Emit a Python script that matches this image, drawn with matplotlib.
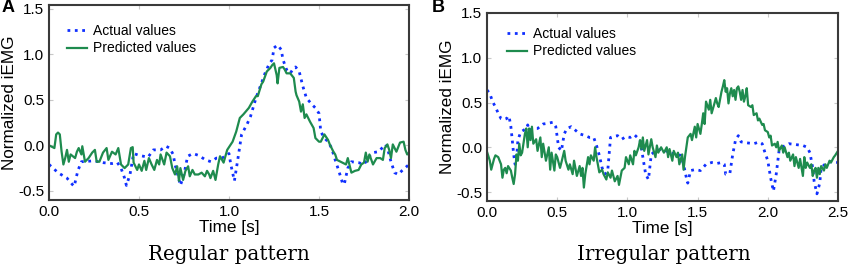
import matplotlib
matplotlib.use("Agg")
import matplotlib.pyplot as plt

# ---------------- Panel A (regular pattern) ----------------
a_actual_t = [0.00, 0.05, 0.10, 0.13, 0.14, 0.16, 0.18, 0.25, 0.30, 0.35, 0.38, 0.40, 0.42, 0.43, 0.45,
              0.47, 0.50, 0.55, 0.58, 0.62, 0.65, 0.67, 0.69, 0.70, 0.72, 0.73, 0.75, 0.77, 0.80, 0.83,
              0.87, 0.90, 0.93, 0.96, 0.98, 1.00, 1.01, 1.03, 1.05, 1.07, 1.10, 1.12, 1.15, 1.18, 1.20,
              1.22, 1.24, 1.25, 1.27, 1.29, 1.30, 1.32, 1.34, 1.36, 1.37, 1.39, 1.41, 1.43, 1.46, 1.48,
              1.50, 1.51, 1.53, 1.55, 1.57, 1.59, 1.61, 1.63, 1.64, 1.66, 1.68, 1.72, 1.75, 1.78, 1.80,
              1.83, 1.85, 1.87, 1.88, 1.90, 1.92, 1.94, 1.96, 2.00]
a_actual_v = [-0.21, -0.30, -0.36, -0.43, -0.45, -0.28, -0.18, -0.17, -0.19, -0.20, -0.19, -0.25, -0.36, -0.44, -0.32,
              -0.09, -0.11, -0.13, -0.05, -0.05, -0.01, -0.03, -0.10, -0.21, -0.36, -0.44, -0.32, -0.12, -0.09, -0.11,
              -0.16, -0.18, -0.14, -0.14, -0.12, -0.09, -0.21, -0.39, -0.14, 0.12, 0.23, 0.32, 0.52, 0.68, 0.79,
              0.88, 0.94, 1.07, 1.10, 1.05, 0.94, 0.83, 0.79, 0.85, 0.86, 0.81, 0.65, 0.52, 0.45, 0.41,
              0.35, 0.15, 0.08, 0.04, -0.03, -0.16, -0.28, -0.41, -0.43, -0.25, -0.18, -0.19, -0.21, -0.12, -0.08,
              -0.07, -0.03, 0.01, -0.03, -0.18, -0.30, -0.32, -0.28, -0.21]

a_pred_t = [0.00, 0.02, 0.03, 0.04, 0.05, 0.06, 0.07, 0.08, 0.09, 0.10, 0.11, 0.12, 0.145, 0.155, 0.165,
            0.18, 0.185, 0.20, 0.22, 0.24, 0.255, 0.265, 0.28, 0.30, 0.32, 0.33, 0.35, 0.37, 0.385, 0.40,
            0.42, 0.44, 0.455, 0.465, 0.47, 0.49, 0.50, 0.515, 0.53, 0.54, 0.555, 0.57, 0.585, 0.60, 0.612,
            0.62, 0.64, 0.653, 0.672, 0.685, 0.70, 0.712, 0.722, 0.73, 0.745, 0.758, 0.773, 0.782, 0.797, 0.81,
            0.83, 0.848, 0.866, 0.878, 0.89, 0.897, 0.912, 0.925, 0.94, 0.95, 0.97, 0.99, 1.02, 1.04, 1.06,
            1.08, 1.11, 1.13, 1.15, 1.16, 1.18, 1.19, 1.21, 1.23, 1.24, 1.25, 1.265, 1.27, 1.28, 1.30,
            1.31, 1.32, 1.34, 1.36, 1.37, 1.375, 1.39, 1.40, 1.41, 1.42, 1.43, 1.45, 1.47, 1.48, 1.50,
            1.51, 1.53, 1.55, 1.56, 1.58, 1.59, 1.60, 1.62, 1.63, 1.65, 1.66, 1.68, 1.70, 1.72, 1.735,
            1.75, 1.76, 1.77, 1.78, 1.80, 1.82, 1.84, 1.855, 1.865, 1.88, 1.89, 1.90, 1.91, 1.93, 1.95,
            1.97, 1.98, 1.99, 2.00]
a_pred_v = [0.00, -0.02, -0.03, 0.12, 0.14, 0.12, -0.07, -0.21, -0.14, -0.05, -0.18, -0.10, -0.14, -0.07, -0.03,
            -0.10, -0.01, -0.18, -0.14, -0.08, -0.05, -0.18, -0.18, -0.08, -0.03, -0.16, -0.07, -0.10, -0.03, -0.21,
            -0.25, -0.21, -0.03, -0.02, -0.19, -0.27, -0.21, -0.28, -0.17, -0.27, -0.14, -0.21, -0.27, -0.16, -0.21,
            -0.10, -0.21, -0.08, -0.12, -0.25, -0.32, -0.23, -0.39, -0.25, -0.38, -0.28, -0.23, -0.34, -0.27, -0.32,
            -0.32, -0.30, -0.34, -0.28, -0.32, -0.36, -0.28, -0.38, -0.21, -0.12, -0.19, -0.05, 0.04, 0.15, 0.30,
            0.34, 0.41, 0.48, 0.54, 0.54, 0.67, 0.70, 0.81, 0.85, 0.88, 0.90, 0.77, 0.68, 0.85, 0.86,
            0.83, 0.79, 0.79, 0.74, 0.59, 0.55, 0.48, 0.37, 0.45, 0.30, 0.34, 0.26, 0.19, 0.08, 0.04,
            0.04, 0.12, 0.06, 0.01, -0.07, -0.10, -0.16, -0.18, -0.19, -0.21, -0.14, -0.30, -0.28, -0.27, -0.21,
            -0.19, -0.08, -0.18, -0.10, -0.21, -0.14, -0.14, -0.16, -0.03, 0.01, -0.05, -0.14, 0.01, -0.07, 0.03,
            0.04, -0.05, -0.10, -0.08]

# ---------------- Panel B (irregular pattern) ----------------
b_actual_t = [0.00, 0.02, 0.04, 0.06, 0.08, 0.10, 0.12, 0.14, 0.15, 0.16, 0.17, 0.18, 0.19, 0.20, 0.21,
              0.22, 0.24, 0.26, 0.28, 0.29, 0.30, 0.33, 0.36, 0.40, 0.44, 0.47, 0.49, 0.51, 0.53, 0.55,
              0.57, 0.60, 0.63, 0.66, 0.70, 0.73, 0.76, 0.78, 0.80, 0.82, 0.84, 0.86, 0.88, 0.90, 0.93,
              0.96, 0.99, 1.02, 1.05, 1.07, 1.09, 1.11, 1.13, 1.15, 1.17, 1.20, 1.25, 1.30, 1.35, 1.38,
              1.40, 1.42, 1.43, 1.45, 1.48, 1.52, 1.56, 1.60, 1.64, 1.67, 1.69, 1.70, 1.73, 1.75, 1.77,
              1.79, 1.81, 1.85, 1.90, 1.94, 1.96, 1.98, 2.00, 2.02, 2.04, 2.06, 2.08, 2.10, 2.15, 2.20,
              2.25, 2.28, 2.30, 2.32, 2.33, 2.35, 2.37, 2.38, 2.42, 2.46, 2.50]
b_actual_v = [0.64, 0.60, 0.51, 0.45, 0.38, 0.32, 0.31, 0.32, 0.35, 0.32, 0.23, 0.08, -0.08, -0.19, -0.15,
              0.08, 0.17, 0.19, 0.21, 0.25, 0.19, 0.21, 0.21, 0.26, 0.27, 0.28, 0.23, 0.00, -0.04, 0.15,
              0.21, 0.23, 0.19, 0.15, 0.13, 0.11, 0.11, 0.02, -0.09, -0.23, -0.30, -0.26, 0.11, 0.12, 0.13,
              0.09, 0.12, 0.11, 0.14, 0.11, 0.08, -0.11, -0.30, -0.36, -0.08, -0.04, -0.02, -0.06, -0.08, -0.09,
              -0.19, -0.34, -0.40, -0.26, -0.25, -0.26, -0.19, -0.17, -0.18, -0.17, -0.19, -0.30, -0.29, -0.08, 0.08,
              0.13, 0.06, 0.05, 0.04, 0.06, 0.04, -0.06, -0.15, -0.34, -0.49, -0.30, -0.04, 0.00, 0.04, 0.03,
              0.02, 0.00, -0.06, -0.23, -0.38, -0.52, -0.40, -0.23, -0.17, -0.16, -0.17]

b_pred_t = [0.00, 0.02, 0.03, 0.05, 0.06, 0.08, 0.10, 0.11, 0.12, 0.13, 0.14, 0.15, 0.17, 0.18, 0.19,
            0.20, 0.21, 0.22, 0.23, 0.24, 0.25, 0.27, 0.28, 0.29, 0.30, 0.31, 0.32, 0.33, 0.35, 0.36,
            0.38, 0.39, 0.40, 0.42, 0.44, 0.45, 0.46, 0.48, 0.49, 0.50, 0.52, 0.53, 0.55, 0.56, 0.58,
            0.59, 0.61, 0.62, 0.64, 0.66, 0.67, 0.68, 0.69, 0.70, 0.72, 0.73, 0.74, 0.76, 0.77, 0.78,
            0.80, 0.82, 0.83, 0.85, 0.86, 0.88, 0.89, 0.91, 0.93, 0.94, 0.96, 0.98, 0.99, 1.01, 1.02,
            1.04, 1.05, 1.06, 1.08, 1.09, 1.10, 1.11, 1.12, 1.14, 1.15, 1.17, 1.18, 1.20, 1.21, 1.22,
            1.24, 1.26, 1.28, 1.29, 1.30, 1.32, 1.33, 1.35, 1.36, 1.37, 1.39, 1.40, 1.41, 1.43, 1.45,
            1.46, 1.48, 1.49, 1.50, 1.52, 1.53, 1.54, 1.55, 1.56, 1.58, 1.59, 1.60, 1.62, 1.63, 1.64,
            1.65, 1.67, 1.68, 1.69, 1.70, 1.71, 1.72, 1.73, 1.74, 1.75, 1.76, 1.77, 1.78, 1.79, 1.80,
            1.81, 1.82, 1.83, 1.84, 1.85, 1.86, 1.88, 1.89, 1.90, 1.92, 1.93, 1.94, 1.96, 1.97, 1.98,
            2.00, 2.01, 2.02, 2.03, 2.05, 2.06, 2.07, 2.08, 2.10, 2.11, 2.12, 2.14, 2.15, 2.16, 2.18,
            2.19, 2.20, 2.22, 2.23, 2.25, 2.26, 2.27, 2.28, 2.30, 2.31, 2.32, 2.33, 2.34, 2.35, 2.36,
            2.37, 2.38, 2.40, 2.41, 2.42, 2.44, 2.45, 2.47, 2.48, 2.50]
b_pred_v = [-0.05, -0.15, -0.25, -0.13, -0.09, -0.11, -0.19, -0.34, -0.25, -0.23, -0.29, -0.21, -0.26, -0.34, -0.41,
            -0.30, -0.08, -0.15, 0.04, -0.09, -0.06, 0.15, 0.21, 0.00, 0.21, 0.08, 0.23, 0.04, 0.09, -0.04,
            0.11, -0.11, 0.04, -0.15, 0.00, -0.25, -0.06, -0.26, -0.08, -0.11, -0.23, -0.17, -0.04, -0.15, -0.25,
            -0.19, -0.30, -0.15, -0.32, -0.21, -0.32, -0.23, -0.45, -0.30, -0.11, -0.19, -0.09, -0.15, 0.00, -0.11,
            -0.28, -0.25, -0.30, -0.36, -0.28, -0.34, -0.26, -0.38, -0.32, -0.42, -0.26, -0.23, -0.11, -0.19, -0.09,
            -0.19, -0.04, -0.09, 0.00, 0.08, -0.02, 0.11, -0.04, 0.08, -0.08, 0.09, 0.00, -0.11, 0.02, -0.06,
            0.00, -0.06, 0.00, -0.11, -0.02, -0.15, -0.04, -0.11, -0.06, -0.19, -0.08, -0.25, -0.11, 0.11, 0.15,
            0.08, 0.23, 0.11, 0.26, 0.15, 0.26, 0.38, 0.26, 0.51, 0.42, 0.53, 0.38, 0.49, 0.55, 0.49,
            0.45, 0.62, 0.68, 0.75, 0.62, 0.66, 0.49, 0.60, 0.66, 0.57, 0.64, 0.53, 0.66, 0.68, 0.62,
            0.53, 0.64, 0.51, 0.57, 0.66, 0.47, 0.45, 0.47, 0.36, 0.38, 0.30, 0.32, 0.25, 0.26, 0.19,
            0.17, 0.11, 0.13, 0.02, 0.04, 0.00, 0.06, -0.04, 0.02, -0.06, 0.00, -0.11, -0.06, -0.15, -0.08,
            -0.21, -0.11, -0.23, -0.13, -0.32, -0.11, -0.23, -0.17, -0.23, -0.19, -0.32, -0.26, -0.23, -0.34, -0.23,
            -0.30, -0.21, -0.26, -0.19, -0.23, -0.15, -0.17, -0.11, -0.09, -0.04]

xticks_a = [0.0, 0.5, 1.0, 1.5, 2.0]
xticks_b = [0.0, 0.5, 1.0, 1.5, 2.0, 2.5]
yticks = [-0.5, 0.0, 0.5, 1.0, 1.5]

BLUE = "#1030ff"
GREEN = "#1e8b4e"
SPINE = "#3a3a3a"

plt.rcParams['font.family'] = ['Liberation Sans', 'DejaVu Sans']

W, H = 851, 271
fig = plt.figure(figsize=(W / 100, H / 100), dpi=100)


def px_axes(l, t, r, b):
    return fig.add_axes([l / W, 1 - b / H, (r - l) / W, (b - t) / H])


def style(ax, xticks, xmax, ylim, wpx, hpx, leg_x, leg_top):
    ax.set_xlim(0, xmax)
    ax.set_ylim(*ylim)
    ax.set_xticks(xticks)
    ax.set_xticklabels([f"{v:.1f}" for v in xticks])
    ax.set_yticks(yticks)
    ax.set_yticklabels([f"{v:.1f}" for v in yticks])
    ax.tick_params(direction='in', length=3, width=0.8, color='#c8c8c8',
                   labelsize=11, top=True, right=True, pad=3.5)
    for s in ax.spines.values():
        s.set_color(SPINE)
        s.set_linewidth(1.5)
    ax.set_xlabel("Time [s]", fontsize=12.3)
    ax.set_ylabel("Normalized iEMG", fontsize=12.3)
    ax.xaxis.set_label_coords(0.5, -20 / hpx)
    ax.yaxis.set_label_coords(-32 / wpx, 0.5)
    ax.legend(loc='upper left', frameon=False, fontsize=10,
              handlelength=1.45, handletextpad=0.4, labelspacing=0.25,
              borderpad=0, borderaxespad=0,
              bbox_to_anchor=(leg_x / wpx, 1 - leg_top / hpx))


axA = px_axes(49, 5, 409, 200)
axA.plot(a_actual_t, a_actual_v, linestyle=':', color=BLUE, lw=2.0, label="Actual values")
axA.plot(a_pred_t, a_pred_v, linestyle='-', color=GREEN, lw=1.6, label="Predicted values")
style(axA, xticks_a, 2.0, (-0.60, 1.54), 360, 195, 18, 19)

axB = px_axes(487, 13, 838, 201)
axB.plot(b_actual_t, b_actual_v, linestyle=':', color=BLUE, lw=2.0, label="Actual values")
axB.plot(b_pred_t, b_pred_v, linestyle='-', color=GREEN, lw=1.6, label="Predicted values")
style(axB, xticks_b, 2.5, (-0.60, 1.50), 351, 188, 20, 14)

fig.text(2 / W, 1 - 8 / H, "A", fontsize=13, fontweight='bold', ha='left', va='center')
fig.text(432 / W, 1 - 8 / H, "B", fontsize=13, fontweight='bold', ha='left', va='center')

fig.text(229 / W, 1 - 254 / H, "Regular pattern", family='DejaVu Serif', fontsize=14.3,
         ha='center', va='center')
fig.text(664 / W, 1 - 254 / H, "Irregular pattern", family='DejaVu Serif', fontsize=14.3,
         ha='center', va='center')

fig.savefig("out.png", dpi=100)
